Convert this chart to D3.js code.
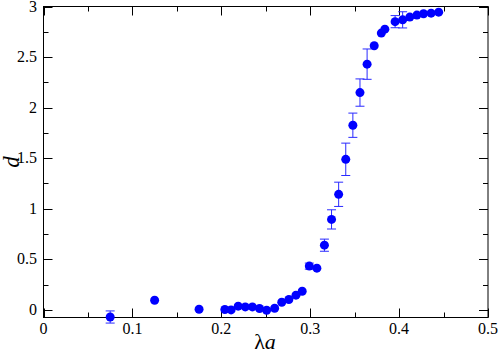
<!DOCTYPE html>
<html lang="en">
<head>
<meta charset="utf-8">
<title>d vs lambda a</title>
<script src="https://d3js.org/d3.v7.min.js"></script>
<style>
  body { margin: 0; background: #fff; }
</style>
</head>
<body>
<svg id="chart" width="498" height="355"></svg>
<script>
// lambda*a values
var lambdaA = [0.075, 0.125, 0.175, 0.204, 0.211, 0.219, 0.227, 0.235, 0.243, 0.251, 0.260,
               0.268, 0.276, 0.284, 0.291, 0.299, 0.3075, 0.316, 0.324, 0.332, 0.340, 0.348,
               0.356, 0.364, 0.372, 0.380, 0.384, 0.3955, 0.404, 0.412, 0.420, 0.4275, 0.436, 0.4445];
// d values
var dVals = [-0.07, 0.096, 0.007, 0.004, 0.0, 0.037, 0.03, 0.03, 0.014, -0.003, 0.017,
             0.076, 0.103, 0.146, 0.185, 0.433, 0.413, 0.64, 0.895, 1.143, 1.489, 1.826,
             2.149, 2.43, 2.612, 2.737, 2.776, 2.85, 2.868, 2.895, 2.915, 2.928, 2.934, 2.944];
// error bar half-widths
var dErr = [0.06, 0.02, 0.01, 0.01, 0.01, 0.01, 0.01, 0.01, 0.01, 0.01, 0.01,
            0.01, 0.01, 0.01, 0.01, 0.03, 0.01, 0.06, 0.095, 0.12, 0.16, 0.12,
            0.135, 0.15, 0.01, 0.01, 0.01, 0.06, 0.08, 0.01, 0.01, 0.01, 0.01, 0.01];

var xTicks = [0, 0.1, 0.2, 0.3, 0.4, 0.5];
var yTicks = [0, 0.5, 1, 1.5, 2, 2.5, 3];

var serif = "'Liberation Serif', 'DejaVu Serif', serif";
var mLeft = 43.5, mTop = 6.5, w = 444.5, h = 311;
var svg = d3.select('#chart');

var x = d3.scaleLinear().domain([0, 0.5]).range([mLeft, mLeft + w]);
var y = d3.scaleLinear().domain([-0.075, 3]).range([mTop + h, mTop]);

var minorX = d3.range(0, 0.501, 0.05);
var minorY = d3.range(0, 3.01, 0.25);

// ticks, all pointing inward
var g = svg.append('g').attr('stroke', '#000').attr('stroke-width', 1);
minorX.forEach(function(v, i) {
  var len = (i % 2 == 0) ? 9 : 5;
  var px = Math.round(x(v)) + 0.5;
  g.append('line').attr('x1', px).attr('x2', px).attr('y1', mTop + h).attr('y2', mTop + h - len);
  g.append('line').attr('x1', px).attr('x2', px).attr('y1', mTop).attr('y2', mTop + len);
});
minorY.forEach(function(v, i) {
  var len = (i % 2 == 0) ? 9 : 5;
  var py = Math.round(y(v)) + 0.5;
  g.append('line').attr('y1', py).attr('y2', py).attr('x1', mLeft).attr('x2', mLeft + len);
  g.append('line').attr('y1', py).attr('y2', py).attr('x1', mLeft + w).attr('x2', mLeft + w - len);
});

// frame
svg.append('rect')
  .attr('x', mLeft).attr('y', mTop).attr('width', w).attr('height', h)
  .attr('fill', 'none').attr('stroke', '#000').attr('stroke-width', 1);

// tick labels
svg.selectAll('.xl').data(xTicks).enter().append('text')
  .style('font-family', serif).style('font-size', '16px')
  .attr('x', function(d) { return x(d); })
  .attr('y', 334)
  .attr('text-anchor', 'middle')
  .text(function(d) { return d; });

svg.selectAll('.yl').data(yTicks).enter().append('text')
  .style('font-family', serif).style('font-size', '16px')
  .attr('x', 37)
  .attr('y', function(d) { return Math.max(y(d) + 5, 12); })
  .attr('text-anchor', 'end')
  .text(function(d) { return d; });

// axis titles
svg.append('text')
  .style('font-family', serif).style('font-size', '23px').style('font-style', 'italic')
  .attr('transform', 'translate(19,162) rotate(-90)')
  .attr('text-anchor', 'middle')
  .text('d');

var xt = svg.append('text')
  .style('font-family', serif).style('font-size', '22px')
  .attr('x', 265).attr('y', 349)
  .attr('text-anchor', 'middle');
xt.append('tspan').text('λ');
xt.append('tspan').style('font-style', 'italic').text('a');

// error bars
var pts = lambdaA.map(function(v, i) { return { x: v, d: dVals[i], e: dErr[i] }; });
var eb = svg.append('g').attr('stroke', '#2a2aff').attr('stroke-width', 1);
pts.filter(function(p) { return p.e > 0.025; }).forEach(function(p) {
  var px = x(p.x);
  eb.append('line').attr('x1', px).attr('x2', px).attr('y1', y(p.d - p.e)).attr('y2', y(p.d + p.e));
  eb.append('line').attr('x1', px - 4.5).attr('x2', px + 4.5).attr('y1', y(p.d - p.e)).attr('y2', y(p.d - p.e));
  eb.append('line').attr('x1', px - 4.5).attr('x2', px + 4.5).attr('y1', y(p.d + p.e)).attr('y2', y(p.d + p.e));
});

// points
svg.append('g').selectAll('circle').data(pts).enter().append('circle')
  .attr('cx', function(p) { return x(p.x); })
  .attr('cy', function(p) { return y(p.d); })
  .attr('r', 4.5)
  .attr('fill', '#0000ff');
</script>
</body>
</html>
